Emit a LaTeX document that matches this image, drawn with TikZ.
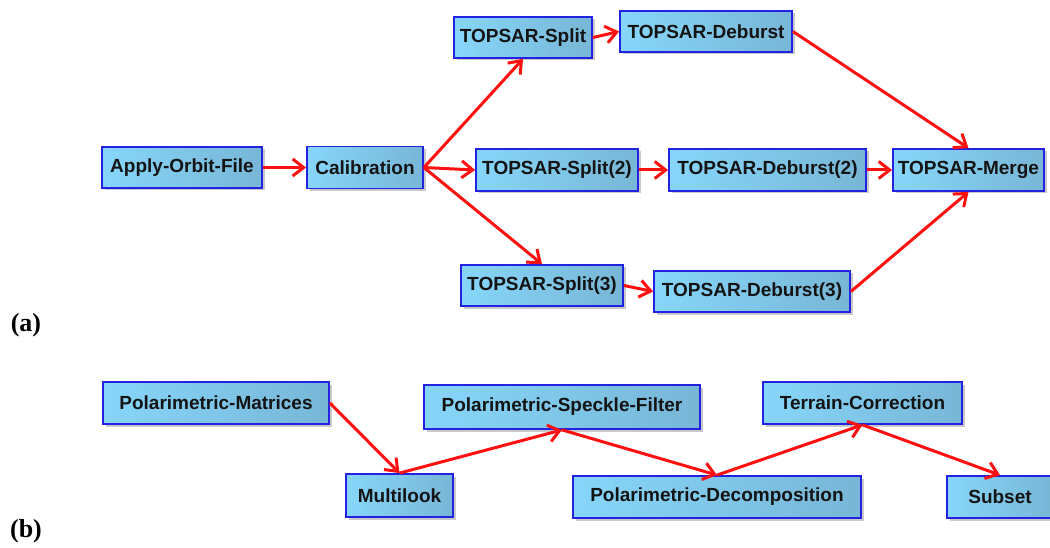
\documentclass[tikz,border=0pt]{standalone}
\usepackage{fontspec}
\setmainfont{Liberation Sans}
\newfontfamily\labelfont{Liberation Serif}
\usetikzlibrary{arrows.meta,shadows}
\definecolor{boxleft}{HTML}{86D6FA}
\definecolor{boxright}{HTML}{78B6D6}
\definecolor{boxborder}{HTML}{2222E0}
\definecolor{arrowred}{HTML}{FF1010}
\tikzset{
  flowbox/.style={draw=boxborder, line width=1.8pt, left color=boxleft, right color=boxright,
    inner sep=0pt, font=\fontsize{19}{21}\selectfont\bfseries, text=black!92,
    drop shadow={shadow xshift=2.5pt, shadow yshift=-2.5pt, opacity=0.35, fill=black!60}},
  flowarrow/.style={draw=arrowred, line width=3pt,
    -{Straight Barb[length=11pt,width=17pt,line width=3pt]}},
  panellabel/.style={font=\labelfont\fontsize{26}{28}\selectfont\bfseries, inner sep=0pt}
}
\begin{document}
\begin{tikzpicture}[x=1pt,y=-1pt]
\useasboundingbox (0,0) rectangle (1050,548);
\clip (0,0) rectangle (1050,548);
\fill[white] (0,0) rectangle (1050,548);
% panel (a)
\node[flowbox, minimum width=160pt, minimum height=41pt] (apply) at (182,167.5) {Apply-Orbit-File};
\node[flowbox, minimum width=116pt, minimum height=42pt] (calib) at (365,167.5) {Calibration};
\node[flowbox, minimum width=138pt, minimum height=41pt] (split) at (523,37.5) {TOPSAR-Split};
\node[flowbox, minimum width=172pt, minimum height=41pt] (deb) at (706,31.5) {TOPSAR-Deburst};
\node[flowbox, minimum width=162pt, minimum height=42pt] (splitb) at (557,170) {TOPSAR-Split(2)};
\node[flowbox, minimum width=197pt, minimum height=42pt] (debb) at (767.5,170) {TOPSAR-Deburst(2)};
\node[flowbox, minimum width=151pt, minimum height=42pt] (merge) at (968.5,170) {TOPSAR-Merge};
\node[flowbox, minimum width=162pt, minimum height=41pt] (splitc) at (542,285.5) {TOPSAR-Split(3)};
\node[flowbox, minimum width=196pt, minimum height=41pt] (debc) at (752,291.5) {TOPSAR-Deburst(3)};
\node[panellabel] (la) at (26,325) {(a)};
\draw[flowarrow] (apply.east) -- (calib.west);
\draw[flowarrow] (calib.east) -- (split.south);
\draw[flowarrow] (calib.east) -- (splitb.west);
\draw[flowarrow] (calib.east) -- (splitc.north);
\draw[flowarrow] (split.east) -- (deb.west);
\draw[flowarrow] (splitb.east) -- (debb.west);
\draw[flowarrow] (splitc.east) -- (debc.west);
\draw[flowarrow] (deb.east) -- (merge.north);
\draw[flowarrow] (debb.east) -- (merge.west);
\draw[flowarrow] (debc.east) -- (merge.south);
% panel (b)
\node[flowbox, minimum width=226pt, minimum height=42pt] (polmat) at (216,403) {Polarimetric-Matrices};
\node[flowbox, minimum width=107pt, minimum height=43pt] (multi) at (399.5,495.5) {Multilook};
\node[flowbox, minimum width=276pt, minimum height=44pt] (speck) at (562,407) {Polarimetric-Speckle-Filter};
\node[flowbox, minimum width=199pt, minimum height=42pt] (terrain) at (862.5,403) {Terrain-Correction};
\node[flowbox, minimum width=288pt, minimum height=42pt] (decomp) at (717,497) {Polarimetric-Decomposition};
\node[flowbox, minimum width=106pt, minimum height=42pt] (subset) at (1000,497) {Subset};
\node[panellabel] (lb) at (26,531) {(b)};
\draw[flowarrow] (polmat.east) -- (multi.north);
\draw[flowarrow] (multi.north) -- (speck.south);
\draw[flowarrow] (speck.south) -- (decomp.north);
\draw[flowarrow] (decomp.north) -- (terrain.south);
\draw[flowarrow] (terrain.south) -- (subset.north);
\end{tikzpicture}
\end{document}
